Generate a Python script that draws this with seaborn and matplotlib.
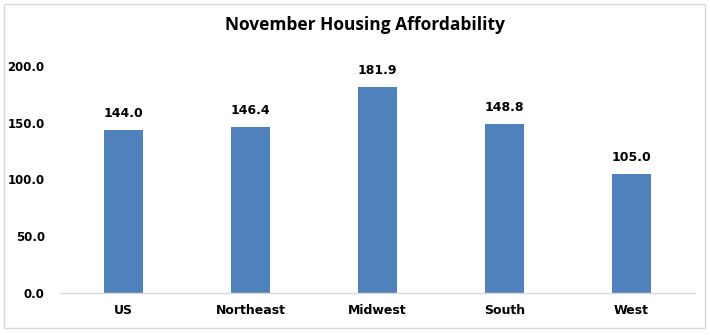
import matplotlib
matplotlib.use("Agg")
import matplotlib.pyplot as plt
import seaborn as sns
import pandas as pd
from matplotlib.patches import Rectangle

regions = ["US", "Northeast", "Midwest", "South", "West"]
affordability = [144.0, 146.4, 181.9, 148.8, 105.0]
y_ticks = [0, 50, 100, 150, 200]
title = "November Housing Affordability"

sns.set_theme(style="white")
plt.rcParams["font.family"] = ["DejaVu Sans"]

df = pd.DataFrame({"region": regions, "value": affordability})

fig = plt.figure(figsize=(7.10, 3.35), dpi=100)
ax = fig.add_axes([60 / 710, 1 - 293 / 335, 635 / 710, 227 / 335])

sns.barplot(data=df, x="region", y="value", color="#4F81BD", width=0.31,
            saturation=1, linewidth=0, ax=ax)

ax.set_ylim(0, 200)
ax.set_xlim(-0.5, len(regions) - 0.5)
ax.set_yticks(y_ticks)
ax.set_yticklabels([f"{v:.1f}" for v in y_ticks], fontsize=8.5,
                   fontweight="bold", color="black")
ax.set_xticks(range(len(regions)))
ax.set_xticklabels(regions, fontsize=9, fontweight="bold", color="black")
ax.tick_params(axis="both", length=0, colors="black")
ax.tick_params(axis="x", pad=8)
ax.tick_params(axis="y", pad=11)
ax.set_xlabel("")
ax.set_ylabel("")

for side in ["top", "right", "left"]:
    ax.spines[side].set_visible(False)
ax.spines["bottom"].set_color("#D9D9D9")
ax.spines["bottom"].set_linewidth(1)

for i, v in enumerate(affordability):
    ax.annotate(f"{v:.1f}", (i, v), xytext=(0, 7), textcoords="offset points",
                ha="center", va="bottom", fontsize=9, fontweight="bold",
                color="black")

fig.text(365 / 710, 1 - 25 / 335, title, ha="center", va="center",
         fontsize=12.5, fontweight="bold", color="black",
         family=["Open Sans", "DejaVu Sans"])

fig.patches.append(Rectangle((4 / 710, 1 - 328 / 335), 701 / 710, 324 / 335,
                             transform=fig.transFigure, fill=False,
                             edgecolor="#D9D9D9", linewidth=1))

fig.savefig("out.png", dpi=100)
